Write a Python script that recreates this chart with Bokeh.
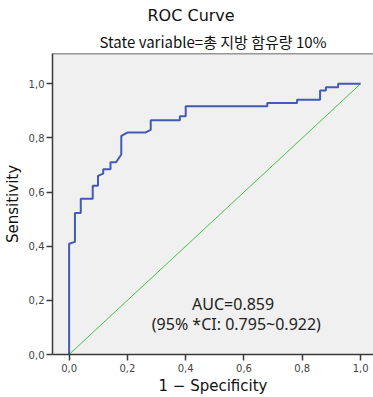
from bokeh.plotting import figure
from bokeh.models import Range1d, Label, Span, FixedTicker, Title
from bokeh.embed import file_html
from bokeh.resources import INLINE

# ROC curve points (1 - specificity, sensitivity)
fpr = [0.0, 0.0, 0.020, 0.020, 0.040, 0.040, 0.081, 0.081, 0.099, 0.099, 0.117, 0.117,
       0.142, 0.142, 0.161, 0.179, 0.179, 0.200, 0.261, 0.280, 0.280, 0.380, 0.380,
       0.400, 0.400, 0.680, 0.680, 0.782, 0.782, 0.861, 0.861, 0.881, 0.881, 0.923,
       0.923, 1.0]
tpr = [0.0, 0.409, 0.416, 0.523, 0.523, 0.575, 0.575, 0.623, 0.623, 0.660, 0.668, 0.684,
       0.684, 0.710, 0.710, 0.739, 0.808, 0.820, 0.820, 0.830, 0.865, 0.865, 0.880,
       0.880, 0.917, 0.917, 0.929, 0.929, 0.941, 0.941, 0.975, 0.975, 0.987, 0.987,
       1.0, 1.0]
ref_x = [0.0, 1.0]
ref_y = [0.0, 1.0]
ticks = [0.0, 0.2, 0.4, 0.6, 0.8, 1.0]
tick_labels = ["0,0", "0,2", "0,4", "0,6", "0,8", "1,0"]
title_text = "ROC Curve"
subtitle_text = "State variable=총 지방 함유량 10%"
auc_text = "AUC=0.859"
ci_text = "(95% *CI: 0.795~0.922)"
xlabel = "1 \u2212 Specificity"
ylabel = "Sensitivity"

p = figure(width=373, height=397, output_backend="svg", toolbar_location=None,
           x_range=Range1d(-0.057, 1.0443), y_range=Range1d(0.0, 1.112),
           min_border_left=50, min_border_right=0, min_border_top=53, min_border_bottom=41)
p.background_fill_color = "#f0f0f0"
p.border_fill_color = "white"
p.outline_line_color = None
p.grid.visible = False

p.title.text = title_text
p.title.align = "left"
p.title.offset = 95
p.title.text_font = "DejaVu Sans"
p.title.text_font_size = "16px"
p.title.text_font_style = "normal"
p.title.text_color = "#111111"
p.title.standoff = 3

sub = Title(text=subtitle_text, align="center", text_font="Noto Sans CJK KR",
            text_font_size="15px", text_font_style="normal", text_color="#111111", standoff=4)
p.add_layout(sub, "above")

for ax in (p.xaxis, p.yaxis):
    ax.ticker = FixedTicker(ticks=ticks)
    ax.major_label_overrides = {t: l for t, l in zip(ticks, tick_labels)}
    ax.minor_tick_line_color = None
    ax.major_tick_in = 0
    ax.major_tick_out = 6
    ax.axis_line_color = "#3a3a3a"
    ax.axis_line_width = 1.5
    ax.major_tick_line_color = "#3a3a3a"
    ax.major_tick_line_width = 1.5
    ax.major_label_text_font = "DejaVu Sans"
    ax.major_label_text_font_size = "10px"
    ax.major_label_text_color = "#444444"
    ax.axis_label_text_font = "DejaVu Sans"
    ax.axis_label_text_font_size = "15px"
    ax.axis_label_text_font_style = "normal"
    ax.axis_label_text_color = "#111111"
p.xaxis.major_label_standoff = 3
p.yaxis.major_label_standoff = 2
p.xaxis.axis_label = xlabel
p.yaxis.axis_label = ylabel
p.xaxis.axis_label_standoff = 2
p.yaxis.axis_label_standoff = 4

p.add_layout(Span(location=1.112, dimension="width", line_color="#3a3a3a", line_width=1.5))

p.line(ref_x, ref_y, line_color="#45c045", line_width=1)
p.line(fpr, tpr, line_color="#3f5bb5", line_width=2)

p.add_layout(Label(x=0.5626, y=0.1468, text=auc_text, text_align="center",
                   text_font="Noto Sans", text_font_size="16px", text_color="#222222"))
p.add_layout(Label(x=0.5738, y=0.0709, text=ci_text, text_align="center",
                   text_font="Noto Sans", text_font_size="16px", text_color="#222222"))

open("out.html", "w").write(file_html(p, INLINE))
